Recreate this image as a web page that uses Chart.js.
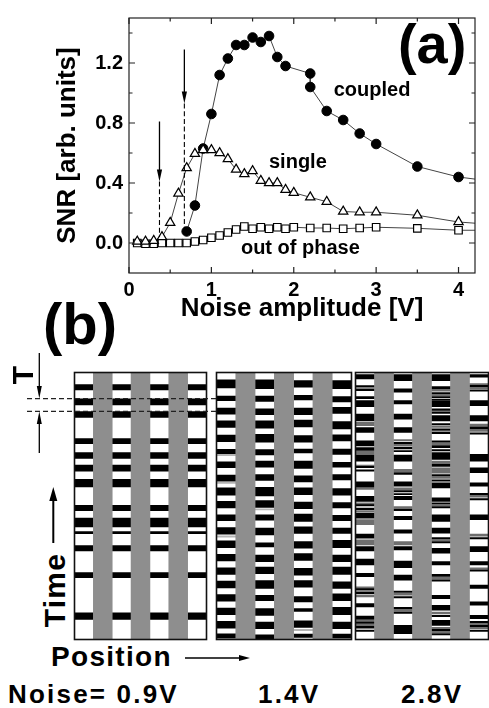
<!DOCTYPE html>
<html>
<head>
<meta charset="utf-8">
<script src="https://cdn.jsdelivr.net/npm/chart.js@4.4.1/dist/chart.umd.min.js"></script>
<style>
  body { margin: 0; background: #fff; }
  #fig { position: relative; width: 489px; height: 708px; overflow: hidden; background: #fff;
         font-family: "Liberation Sans", Arial, sans-serif; font-weight: bold; color: #000; }
  canvas { position: absolute; }
  .t { position: absolute; line-height: 1; white-space: nowrap; }
  .rot { transform: translate(-50%, -50%) rotate(-90deg); }
  svg { position: absolute; left: 0; top: 0; z-index: 2; }
</style>
</head>
<body>
<div id="fig">
  <canvas id="snr" width="489" height="330" style="left:0;top:0"></canvas>
  <canvas id="p1" width="135" height="270" style="left:73px;top:371px"></canvas>
  <canvas id="p2" width="138" height="270" style="left:215px;top:371px"></canvas>
  <canvas id="p3" width="136" height="270" style="left:354px;top:371px"></canvas>

  <svg width="489" height="708">
    <g stroke="#222" stroke-width="1.2" stroke-dasharray="5 3">
      <line x1="27" y1="398.7" x2="217" y2="398.7"/>
      <line x1="27" y1="411.3" x2="217" y2="411.3"/>
    </g>
    <g stroke="#000" stroke-width="1.3" fill="#000">
      <line x1="39.3" y1="353" x2="39.3" y2="390"/>
      <polygon points="36.8,386 41.8,386 39.3,398.5" stroke="none"/>
      <line x1="39.3" y1="453" x2="39.3" y2="420"/>
      <polygon points="36.8,424 41.8,424 39.3,411.5" stroke="none"/>
      <line x1="53.3" y1="543" x2="53.3" y2="496" stroke-width="2"/>
      <polygon points="49.3,501 57.3,501 53.3,487" stroke="none"/>
      <line x1="185" y1="658" x2="242" y2="658"/>
      <polygon points="239,655 239,661 250,658" stroke="none"/>
    </g>
  </svg>

  <div class="t" style="left:43px;top:295px;font-size:58px">(b)</div>
  <div class="t rot" style="left:22.5px;top:375px;font-size:30px">T</div>
  <div class="t rot" style="left:55px;top:590px;font-size:30px;letter-spacing:1.3px">Time</div>
  <div class="t" style="left:51px;top:643px;font-size:28px;letter-spacing:1.3px">Position</div>
  <div class="t" style="left:8px;top:681px;font-size:26px;letter-spacing:2.2px">Noise= 0.9V</div>
  <div class="t" style="left:258px;top:681px;font-size:26px;letter-spacing:2.2px">1.4V</div>
  <div class="t" style="left:401px;top:681px;font-size:26px;letter-spacing:2.2px">2.8V</div>
</div>

<script>
// ---- (a) SNR vs noise amplitude ----
const coupledX = [0.7, 0.8, 0.9, 1.0, 1.1, 1.2, 1.3, 1.4, 1.5, 1.6, 1.7, 1.8, 1.9, 2.2, 2.2, 2.4, 2.6, 2.8, 3.0, 3.5, 4.0, 4.5];
const coupledY = [0.077, 0.25, 0.63, 0.86, 1.12, 1.23, 1.32, 1.32, 1.37, 1.34, 1.38, 1.24, 1.18, 1.13, 1.04, 0.88, 0.82, 0.73, 0.66, 0.51, 0.44, 0.405];
const singleX = [0.1, 0.2, 0.3, 0.4, 0.5, 0.6, 0.7, 0.8, 0.9, 1.0, 1.1, 1.2, 1.3, 1.4, 1.5, 1.6, 1.7, 1.8, 1.9, 2.0, 2.2, 2.4, 2.6, 2.8, 3.0, 3.5, 4.0, 4.5];
const singleY = [0.01, 0.01, 0.015, 0.04, 0.135, 0.33, 0.50, 0.595, 0.62, 0.62, 0.60, 0.56, 0.49, 0.46, 0.48, 0.415, 0.40, 0.40, 0.355, 0.335, 0.305, 0.275, 0.21, 0.205, 0.205, 0.185, 0.14, 0.12];
const outX = [0.1, 0.2, 0.3, 0.4, 0.5, 0.6, 0.7, 0.8, 0.9, 1.0, 1.1, 1.2, 1.3, 1.4, 1.5, 1.6, 1.7, 1.8, 1.9, 2.0, 2.2, 2.4, 2.6, 2.8, 3.0, 3.5, 4.0, 4.5];
const outY = [0.0, -0.005, -0.005, 0, 0, 0, 0, 0.01, 0.02, 0.035, 0.05, 0.07, 0.09, 0.11, 0.095, 0.105, 0.095, 0.105, 0.095, 0.105, 0.10, 0.10, 0.095, 0.10, 0.105, 0.098, 0.085, 0.085];

const xTicks = [0, 1, 2, 3, 4];
const xMinor = [0.5, 1.5, 2.5, 3.5];
const yTicks = [0, 0.4, 0.8, 1.2];
const yMinor = [0.2, 0.6, 1.0, 1.4];

// threshold arrows: x, top of shaft, arrow tip, end of dashed drop
const arrowX = [0.37, 0.672];
const arrowTop = [0.81, 1.29];
const arrowTip = [0.41, 0.93];
const arrowFoot = [0.04, 0.08];

const curveLabels = [
  { text: 'coupled', x: 2.95, y: 1.02, size: 20 },
  { text: 'single', x: 2.05, y: 0.535, size: 20 },
  { text: 'out of phase', x: 2.08, y: -0.035, size: 20 },
  { text: '(a)', x: 3.68, y: 1.30, size: 56 }
];

// ---- (b) space-time plots, time 0 (bottom) .. tMax (top) ----
const tMax = 199;
const p1Bands = [[186, 190], [174.8, 179.3], [165.5, 169.8], [146, 149.8], [135, 139.3], [125.5, 130], [113.8, 119.3],
  [96, 100], [84, 90.5], [78.8, 80.5], [66, 70], [46, 49.8], [15, 19.8]];

const p2Col1 = [[187.5, 193.5], [178, 181.5], [168, 172.5], [158, 163], [147.5, 152.3], [138.5, 141.8], [128, 132.5], [118, 122.5],
  [107.5, 113], [98, 103], [88.5, 93], [78.5, 83.5], [68.5, 73.5], [58.5, 63.5], [48.5, 53.5], [38.5, 43.5], [28.5, 33.5],
  [18.5, 23.5], [8.5, 13.5], [1, 4.3]];
const p2Col3 = [[187, 193.5], [177.5, 181.5], [167.5, 172], [157.5, 163], [147, 153], [137.5, 141.5], [128.5, 133], [118.5, 123],
  [107, 113.5], [98.5, 103.5], [89, 93], [78, 83], [69, 72], [58, 63], [49, 54], [38, 44], [29, 33], [18, 23], [8, 13], [0.5, 3.5]];
const p2Col5 = [[188, 193], [178.5, 182], [167.5, 172.5], [158.5, 163.5], [147, 152], [139, 142], [127.5, 133], [117.5, 122],
  [108, 113], [97.5, 102.5], [88, 93.5], [79, 84], [68, 73], [59, 64], [48, 53], [39, 44], [28, 32], [21, 23], [9, 14], [1.5, 4]];
const p2Col7 = [[187, 193], [177, 181], [168.5, 173], [157, 162.5], [148, 152.5], [138, 142], [128.5, 132], [119, 123],
  [107.5, 112.5], [98, 102], [88.5, 92.5], [79, 83], [68.5, 74], [58, 63], [48.5, 54], [38, 43], [29, 34], [18.5, 24], [8, 13], [1, 4]];
const p2Grey1 = [[137, 138], [116.3, 117.2], [76.3, 77.2]];
const p2Grey3 = [[96.5, 97.3]];
const p2Grey5 = [[29, 30], [6.5, 7.5]];
const p2Grey7 = [[160, 161], [109.5, 110.5]];

const p3Col1 = [[194.3, 197.5], [188, 189.3], [185.5, 186.8], [179.5, 181], [173.5, 178], [163, 168], [154.3, 158], [144.3, 148],
  [141, 143], [133, 137.5], [128, 129], [125.5, 126.5], [113.5, 117.5], [103, 106.8], [99.5, 100.5], [96.8, 98], [90.5, 94.3],
  [75.5, 78.5], [66, 69.3], [55.5, 60], [46.8, 49.3], [36.8, 38], [34, 35.5], [24.3, 26.8], [15, 17.5], [12, 13], [8.5, 10], [6, 7]];
const p3Col3 = [[193, 197.5], [184.3, 186.8], [175.5, 178], [164.3, 168], [154.3, 158], [146, 147], [142, 143.3], [140, 140.8],
  [133, 137.5], [123, 124.5], [114.3, 117.5], [110, 111], [108, 108.8], [104.3, 106.8], [96, 97], [89.3, 91.8], [79.3, 81.8],
  [66.8, 69.3], [53.5, 58.5], [44.3, 48], [35, 36], [31, 32], [23, 24], [19.5, 20.5], [4.3, 10.5]];
const p3Col5 = [[193, 197.5], [187, 188.5], [183, 184], [180, 181], [178.5, 179], [173.5, 178], [171, 172], [168.5, 169.5],
  [163, 166.8], [160, 161], [156, 157], [153.5, 154.5], [147, 148], [143, 144.5], [140.5, 141.5], [134.3, 139.3], [129, 130.5],
  [122, 123], [118, 119], [113, 116.8], [103, 105.5], [101, 101.8], [98, 99], [88, 93], [79.3, 83], [75, 76], [72, 73],
  [64.3, 68], [55.5, 58], [47, 48.5], [43.5, 44.5], [30.5, 33], [21.8, 25.5], [17, 18], [10.5, 14.3], [6.5, 7.5], [3.5, 4.5]];
const p3Col7 = [[195.5, 197.5], [188.5, 189.5], [185, 186], [174.3, 178], [163, 166.8], [157, 158.5], [153, 154], [133, 138],
  [124.3, 128], [114.3, 116.8], [108, 109], [104, 105], [89.3, 93], [75, 76], [65.5, 69.3], [55.5, 58], [51, 52], [38, 40.5],
  [25.5, 28], [15.5, 18], [12.5, 13.5], [9.5, 10.5], [6, 7]];
const p3Grey1 = [[159.3, 161.8], [138, 140.5], [129, 130], [111.8, 113], [100.5, 101.8], [95, 96], [85.5, 89.3], [70.5, 74.3],
  [38, 39.3], [31.8, 33], [13, 14.3], [10.5, 11.5]];
const p3Grey3 = [[148, 149], [144, 145.5], [125, 126.8], [111.5, 113], [97.5, 99], [70.5, 73], [33, 34.5], [21, 22.5]];
const p3Grey5 = [[185, 186.5], [181.5, 182.5], [170, 170.8], [158, 159], [155, 155.8], [145, 146.5], [131, 133], [124, 126],
  [126.5, 128], [120, 121.5], [99.5, 100.5], [73.5, 74.5], [45, 46.5], [19, 20.5], [8, 9], [5, 6]];
const p3Grey7 = [[190, 190.8], [187, 188], [159, 160.5], [155, 156.5], [106, 107.5], [77, 78.5], [52.5, 53.5], [11, 12], [8, 9]];

const cols = ['c1', 'c2', 'c3', 'c4', 'c5', 'c6', 'c7'];

Chart.defaults.font.family = '"Liberation Sans", Arial, sans-serif';
Chart.defaults.font.weight = 'bold';
Chart.defaults.color = '#000';

const pts = (xs, ys) => xs.map((x, i) => ({ x: x, y: ys[i] }));

const snrDecor = {
  id: 'snrDecor',
  afterDraw(chart) {
    const { ctx, chartArea: a, scales: { x, y } } = chart;
    ctx.save();
    ctx.strokeStyle = '#222';
    ctx.lineWidth = 1.2;
    ctx.strokeRect(a.left, a.top, a.right - a.left, a.bottom - a.top);
    ctx.beginPath();
    const xt = (v, len) => {
      const px = x.getPixelForValue(v);
      ctx.moveTo(px, a.bottom); ctx.lineTo(px, a.bottom - len);
      ctx.moveTo(px, a.top); ctx.lineTo(px, a.top + len);
    };
    const yt = (v, len) => {
      const py = y.getPixelForValue(v);
      ctx.moveTo(a.left, py); ctx.lineTo(a.left + len, py);
      ctx.moveTo(a.right, py); ctx.lineTo(a.right - len, py);
    };
    xTicks.forEach(v => xt(v, 6));
    xMinor.forEach(v => xt(v, 3.5));
    yTicks.forEach(v => yt(v, 6));
    yMinor.forEach(v => yt(v, 3.5));
    ctx.stroke();

    // threshold arrows
    ctx.strokeStyle = '#000';
    ctx.fillStyle = '#000';
    arrowX.forEach((v, i) => {
      const px = x.getPixelForValue(v);
      const top = y.getPixelForValue(arrowTop[i]);
      const tip = y.getPixelForValue(arrowTip[i]);
      const foot = y.getPixelForValue(arrowFoot[i]);
      ctx.lineWidth = 1.3;
      ctx.setLineDash([]);
      ctx.beginPath(); ctx.moveTo(px, top); ctx.lineTo(px, tip - 8); ctx.stroke();
      ctx.beginPath(); ctx.moveTo(px - 2.6, tip - 12); ctx.lineTo(px + 2.6, tip - 12); ctx.lineTo(px, tip); ctx.closePath(); ctx.fill();
      ctx.lineWidth = 1.1;
      ctx.setLineDash([5, 2.7]);
      ctx.beginPath(); ctx.moveTo(px, tip); ctx.lineTo(px, foot); ctx.stroke();
    });
    ctx.setLineDash([]);

    ctx.textAlign = 'center';
    ctx.textBaseline = 'middle';
    curveLabels.forEach(l => {
      ctx.font = 'bold ' + l.size + 'px "Liberation Sans", Arial, sans-serif';
      ctx.fillText(l.text, x.getPixelForValue(l.x), y.getPixelForValue(l.y));
    });
    ctx.restore();
  }
};

new Chart(document.getElementById('snr'), {
  type: 'line',
  data: {
    datasets: [
      { label: 'single', data: pts(singleX, singleY), borderColor: '#444', borderWidth: 1,
        pointStyle: 'triangle', pointRadius: 5.4, pointBackgroundColor: '#fff', pointBorderColor: '#000', pointBorderWidth: 1.2 },
      { label: 'coupled', data: pts(coupledX, coupledY), borderColor: '#444', borderWidth: 1,
        pointStyle: 'circle', pointRadius: 4.8, pointBackgroundColor: '#000', pointBorderColor: '#000', pointBorderWidth: 1 },
      { label: 'out of phase', data: pts(outX, outY), borderColor: '#444', borderWidth: 1,
        pointStyle: 'rect', pointRadius: 5.3, pointBackgroundColor: '#fff', pointBorderColor: '#000', pointBorderWidth: 1.2 }
    ]
  },
  options: {
    responsive: false,
    animation: false,
    events: [],
    layout: { padding: { left: 0, top: 5, right: 14, bottom: 0 } },
    plugins: { legend: { display: false }, tooltip: { enabled: false } },
    elements: { line: { tension: 0 } },
    scales: {
      x: {
        type: 'linear', min: 0, max: 4.2,
        grid: { display: false, drawTicks: false }, border: { display: false },
        afterBuildTicks: s => { s.ticks = xTicks.map(v => ({ value: v })); },
        afterFit: s => { s.height = 57; },
        ticks: { font: { size: 20, weight: 'bold' }, padding: 5, maxRotation: 0, callback: v => String(v) },
        title: { display: true, text: 'Noise amplitude [V]', font: { size: 26, weight: 'bold' }, padding: { top: 0, bottom: 6 } }
      },
      y: {
        type: 'linear', min: -0.2, max: 1.5,
        grid: { display: false, drawTicks: false }, border: { display: false },
        afterBuildTicks: s => { s.ticks = yTicks.map(v => ({ value: v })); },
        afterFit: s => { s.width = 129; },
        ticks: { font: { size: 20, weight: 'bold' }, padding: 6, callback: v => v.toFixed(1) },
        title: { display: true, text: 'SNR [arb. units]', font: { size: 26, weight: 'bold' }, padding: { top: 52, bottom: 0 } }
      }
    }
  },
  plugins: [snrDecor]
});

// ---- (b) panels ----
const frame = {
  id: 'frame',
  afterDraw(chart) {
    const { ctx, chartArea: a } = chart;
    ctx.save();
    ctx.strokeStyle = '#111';
    ctx.lineWidth = 1.6;
    ctx.strokeRect(a.left, a.top, a.right - a.left, a.bottom - a.top);
    ctx.restore();
  }
};

function panel(id, colBands, colLines, lineColor) {
  const black = [], lines = [];
  ['c1', 'c3', 'c5', 'c7'].forEach((c, i) => {
    colBands[i].forEach(b => black.push({ x: c, y: b }));
    colLines[i].forEach(b => lines.push({ x: c, y: b }));
  });
  new Chart(document.getElementById(id), {
    type: 'bar',
    data: {
      labels: cols,
      datasets: [
        { data: ['c2', 'c4', 'c6'].map(c => ({ x: c, y: [0, tMax] })), backgroundColor: '#8e8e8e' },
        { data: black, backgroundColor: '#000' },
        { data: lines, backgroundColor: lineColor }
      ]
    },
    options: {
      responsive: false,
      animation: false,
      events: [],
      layout: { padding: 1.5 },
      plugins: { legend: { display: false }, tooltip: { enabled: false } },
      datasets: { bar: { grouped: false, barPercentage: 1, categoryPercentage: 1, borderWidth: 0 } },
      scales: {
        x: { type: 'category', display: false, offset: true },
        y: { type: 'linear', min: 0, max: tMax, display: false }
      }
    },
    plugins: [frame]
  });
}

panel('p1', [p1Bands, p1Bands, p1Bands, p1Bands], [[], [], [], []], '#bbb');
panel('p2', [p2Col1, p2Col3, p2Col5, p2Col7], [p2Grey1, p2Grey3, p2Grey5, p2Grey7], '#b5b5b5');
panel('p3', [p3Col1, p3Col3, p3Col5, p3Col7], [p3Grey1, p3Grey3, p3Grey5, p3Grey7], '#6e6e6e');
</script>
</body>
</html>
